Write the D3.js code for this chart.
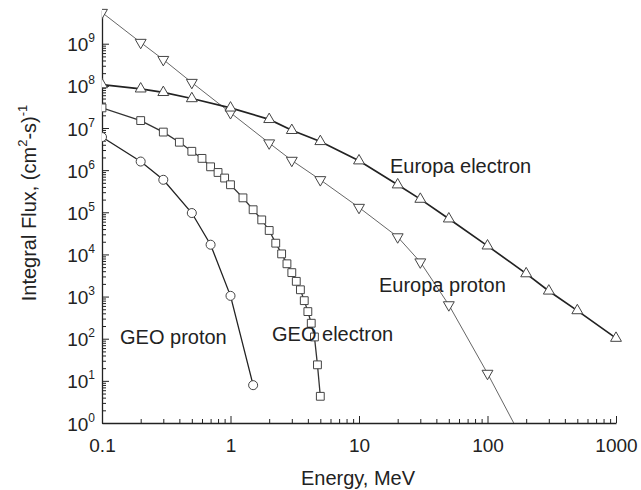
<!DOCTYPE html>
<html>
<head>
<meta charset="utf-8">
<script src="https://cdn.jsdelivr.net/npm/d3@7"></script>
<style>
  body { margin: 0; background: #fff; }
  svg { display: block; font-family: Arial, "Liberation Sans", Helvetica, sans-serif; }
  .axis path, .axis line { stroke: #222; }
  .lbl { font-size: 20px; fill: #222; }
</style>
</head>
<body>
<div id="svg-area"></div>
<script>
// energies (MeV) and integral flux values
const europaElectronE = [0.1, 0.2, 0.3, 0.5, 1, 2, 3, 5, 10, 20, 30, 50, 100, 200, 300, 500, 1000];
const europaElectronFlux = [1.07e8, 8.5e7, 7e7, 5e7, 3e7, 1.6e7, 8.8e6, 4.8e6, 1.67e6, 4.5e5, 2.05e5, 7e4, 1.6e4, 3.5e3, 1.36e3, 465, 103];

const europaProtonE = [0.1, 0.2, 0.3, 0.5, 1, 2, 3, 5, 10, 20, 30, 50, 100, 160];
const europaProtonFlux = [5.5e9, 1.07e9, 4.2e8, 1.2e8, 2.3e7, 4.4e6, 1.7e6, 5.9e5, 1.3e5, 2.6e4, 6.6e3, 635, 15, 1];

const geoElectronE = [0.1, 0.2, 0.3, 0.4, 0.5, 0.6, 0.7, 0.8, 0.9, 1, 1.25, 1.5, 1.75, 2, 2.25, 2.5, 2.75, 3, 3.25, 3.5, 3.75, 4, 4.25, 4.5, 4.75, 5];
const geoElectronFlux = [3e7, 1.5e7, 8e6, 4.6e6, 2.8e6, 1.9e6, 1.2e6, 8.8e5, 6.5e5, 4.5e5, 2.2e5, 1.15e5, 6.6e4, 3.7e4, 1.85e4, 1.03e4, 6e3, 3.7e3, 2.3e3, 1.45e3, 800, 440, 233, 110, 24, 4.3];

const geoProtonE = [0.1, 0.2, 0.3, 0.5, 0.7, 1, 1.5];
const geoProtonFlux = [6.1e6, 1.6e6, 5.9e5, 9.6e4, 1.7e4, 1.04e3, 7.9];

const xTicks = [0.1, 1, 10, 100, 1000];
const xTickLabels = ["0.1", "1", "10", "100", "1000"];
const yExponents = [0, 1, 2, 3, 4, 5, 6, 7, 8, 9];

const width = 641, height = 490;
const m = {left: 102, right: 25, top: 10, bottom: 67};

const x = d3.scaleLog().domain([0.1, 1000]).range([m.left, width - m.right]);
const y = d3.scaleLog().domain([1, Math.pow(10, 9.8)]).range([height - m.bottom, m.top]);

const svg = d3.select('#svg-area').append('svg').attr('width', width).attr('height', height);

svg.append('defs').append('clipPath').attr('id', 'plot')
  .append('rect').attr('x', m.left).attr('y', 0).attr('width', width - m.left).attr('height', height - m.bottom);

// minor tick positions
function minors(lo, hi) {
  const out = [];
  for (let d = lo; d < hi; d++) for (let k = 2; k <= 9; k++) out.push(k * Math.pow(10, d));
  return out;
}

// x axis
const xMinor = svg.append('g').attr('class', 'axis').attr('transform', `translate(0,${height - m.bottom})`)
  .call(d3.axisBottom(x).tickValues(minors(-1, 3)).tickSize(-4).tickFormat(''));
xMinor.select('.domain').remove();
const xMajor = svg.append('g').attr('class', 'axis').attr('transform', `translate(0,${height - m.bottom})`)
  .call(d3.axisBottom(x).tickValues(xTicks).tickSizeInner(-7).tickSizeOuter(0).tickPadding(16)
    .tickFormat((d, i) => xTickLabels[i]));
xMajor.selectAll('text').attr('font-size', 19).attr('fill', '#222').attr('font-family', null);
xMajor.select('.domain').attr('stroke-width', 1.3);

// y axis
const yMinor = svg.append('g').attr('class', 'axis').attr('transform', `translate(${m.left},0)`)
  .call(d3.axisLeft(y).tickValues(minors(0, 9).filter(v => v <= y.domain()[1])).tickSize(-4).tickFormat(''));
yMinor.select('.domain').remove();
const yMajor = svg.append('g').attr('class', 'axis').attr('transform', `translate(${m.left},0)`)
  .call(d3.axisLeft(y).tickValues(yExponents.map(e => Math.pow(10, e))).tickSizeInner(-7).tickSizeOuter(0).tickFormat(''));
yMajor.select('.domain').attr('stroke-width', 1.3);
yMajor.selectAll('.tick').each(function(d, i) {
  const t = d3.select(this).append('text').attr('fill', '#222').attr('text-anchor', 'end')
    .attr('x', -7).attr('y', 7).attr('font-size', 19);
  t.append('tspan').text('10');
  t.append('tspan').attr('font-size', 12).attr('dy', -9).text(yExponents[i]);
});

// axis titles
svg.append('text').attr('class', 'lbl').attr('x', 358).attr('y', 485).attr('text-anchor', 'middle').text('Energy, MeV');
const yt = svg.append('text').attr('class', 'lbl').attr('text-anchor', 'middle')
  .attr('transform', 'translate(36,203) rotate(-90)');
yt.append('tspan').text('Integral Flux, (cm');
yt.append('tspan').attr('font-size', 13).attr('dy', -9).text('2');
yt.append('tspan').attr('dy', 9).text('-s)');
yt.append('tspan').attr('font-size', 13).attr('dy', -9).text('-1');

// series
const series = [
  {name: 'Europa proton', e: europaProtonE, f: europaProtonFlux, marker: 'down', color: '#666', lw: 1},
  {name: 'Europa electron', e: europaElectronE, f: europaElectronFlux, marker: 'up', color: '#222', lw: 1.7},
  {name: 'GEO electron', e: geoElectronE, f: geoElectronFlux, marker: 'square', color: '#333', lw: 1.3},
  {name: 'GEO proton', e: geoProtonE, f: geoProtonFlux, marker: 'circle', color: '#222', lw: 1.3}
];

const line = d3.line().x(d => x(d[0])).y(d => y(d[1]));
const plot = svg.append('g').attr('clip-path', 'url(#plot)');

const symbols = {
  up: d3.symbol().type(d3.symbolTriangle2).size(85),
  down: d3.symbol().type(d3.symbolTriangle2).size(85),
  square: d3.symbol().type(d3.symbolSquare2).size(78),
  circle: d3.symbol().type(d3.symbolCircle).size(64)
};

series.forEach(s => {
  const pts = s.e.map((v, i) => [v, s.f[i]]);
  plot.append('path').datum(pts).attr('d', line).attr('fill', 'none')
    .attr('stroke', s.color).attr('stroke-width', s.lw);
  plot.append('g').selectAll('path').data(pts.filter(p => p[1] > 1)).enter().append('path')
    .attr('d', symbols[s.marker])
    .attr('transform', p => `translate(${x(p[0])},${y(p[1])})` + (s.marker === 'down' ? ' rotate(180)' : ''))
    .attr('fill', '#fff').attr('stroke', '#444').attr('stroke-width', 1);
});

// curve labels
const notes = [
  {t: 'Europa electron', x: 390, y: 173},
  {t: 'Europa proton', x: 379, y: 292},
  {t: 'GEO proton', x: 120, y: 344},
  {t: 'GEO electron', x: 272, y: 341}
];
svg.append('g').selectAll('text').data(notes).enter().append('text').attr('class', 'lbl')
  .attr('x', d => d.x).attr('y', d => d.y).text(d => d.t);
</script>
</body>
</html>
